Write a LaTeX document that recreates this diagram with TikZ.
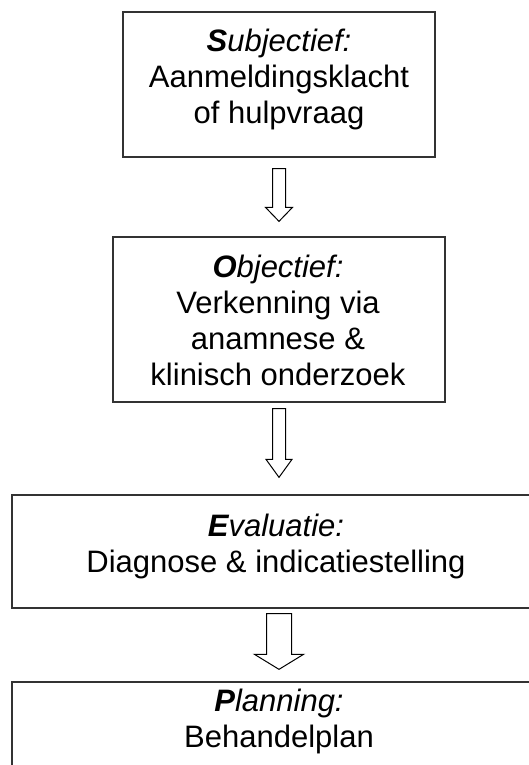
\documentclass[tikz,border=0pt]{standalone}
\usepackage{fontspec}
\setmainfont{Liberation Sans}
\usetikzlibrary{calc}

% hollow block arrow: start, tip, half shaft, half head, head length
\newcommand{\hollowarrow}[5]{%
  \draw [line width=1pt, line join=miter] ($(#1)+(-#3,0)$) -- ($(#2)+(-#3,-#5)$) -- ($(#2)+(-#4,-#5)$) -- (#2) -- ($(#2)+(#4,-#5)$) -- ($(#2)+(#3,-#5)$) -- ($(#1)+(#3,0)$) -- cycle;}

\tikzset{
  stagebox/.style={draw=black!80, line width=1.3pt, inner sep=0pt},
  stagetext/.style={anchor=north, align=center, inner sep=0pt, font=\fontsize{31}{36}\selectfont},
}

\begin{document}
\begin{tikzpicture}[x=1pt,y=-1pt]
\useasboundingbox (0,0) rectangle (529,765);
\clip (0,0) rectangle (529,765);
% boxes
\node [stagebox, minimum width=312pt, minimum height=145pt] (subj) at (279,84.5) {};
\node [stagebox, minimum width=332pt, minimum height=165pt] (obj) at (279,319.5) {};
\node [stagebox, minimum width=534pt, minimum height=113pt] (eval) at (279,551.5) {};
\node [stagebox, minimum width=534pt, minimum height=138pt] (plan) at (279,751) {};
% texts
\node [stagetext] (subjt) at (279,29) {{\bfseries\itshape S}{\itshape ubjectief:}\\Aanmeldingsklacht\\of hulpvraag};
\node [stagetext] (objt) at (278,255) {{\bfseries\itshape O}{\itshape bjectief:}\\Verkenning via\\anamnese \&\\klinisch onderzoek};
\node [stagetext] (evalt) at (276,514) {{\bfseries\itshape E}{\itshape valuatie:}\\Diagnose \& indicatiestelling};
\node [stagetext] (plant) at (279,689) {{\bfseries\itshape P}{\itshape lanning:}\\Behandelplan};
% arrows
\coordinate (a1s) at ($(subj.south)+(0,11)$);
\coordinate (a1e) at ($(obj.north)+(0,-15)$);
\coordinate (a2s) at ($(obj.south)+(0,6)$);
\coordinate (a2e) at ($(eval.north)+(0,-17)$);
\coordinate (a3s) at ($(eval.south)+(0,5)$);
\coordinate (a3e) at ($(plan.north)+(0,-12)$);
\hollowarrow{a1s}{a1e}{6.5}{13.5}{14}
\hollowarrow{a2s}{a2e}{6.5}{13}{18}
\hollowarrow{a3s}{a3e}{12.5}{24.5}{15}
\end{tikzpicture}
\end{document}
